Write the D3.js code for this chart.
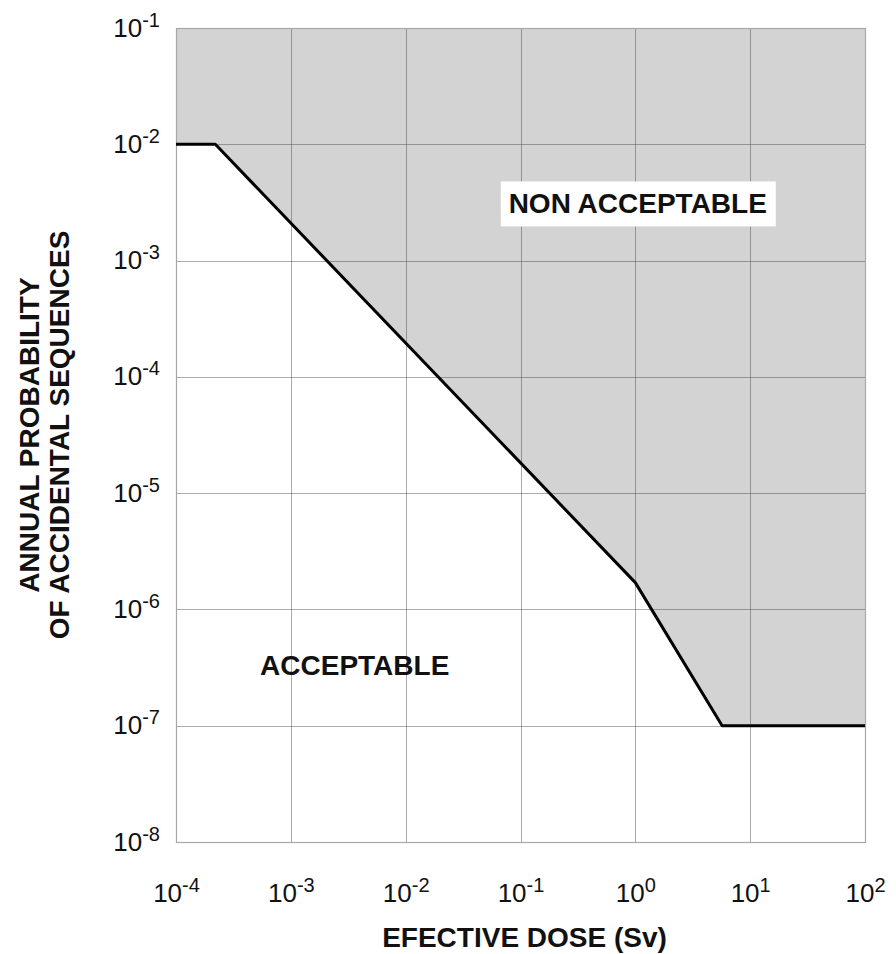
<!DOCTYPE html>
<html>
<head>
<meta charset="utf-8">
<script src="https://cdn.jsdelivr.net/npm/d3@7"></script>
<style>
  body { margin: 0; background: #fff; }
  svg { display: block; font-family: "Liberation Sans", Arial, sans-serif; }
</style>
</head>
<body>
<svg id="chart" width="896" height="954"></svg>
<script>
// axis decades (exponents of 10)
const xExponents = [-4, -3, -2, -1, 0, 1, 2];
const yExponents = [-1, -2, -3, -4, -5, -6, -7, -8];

// limit curve: effective dose (Sv) vs annual probability
const limitDose = [1e-4, 2.2e-4, 1, 5.7, 100];
const limitProb = [1e-2, 1e-2, 1.7e-6, 1e-7, 1e-7];

// region labels
const regionNames = ["NON ACCEPTABLE", "ACCEPTABLE"];
const regionDose = [1.05, 3.6e-3];
const regionProb = [3.1e-3, 3.3e-7];
const regionBoxed = [true, false];

const xTitle = "EFECTIVE DOSE (Sv)";
const yTitle = ["ANNUAL PROBABILITY", "OF ACCIDENTAL SEQUENCES"];

const plot = {left: 176, right: 865, top: 28, bottom: 842};
const svg = d3.select("#chart");

const x = d3.scaleLog()
    .domain([1e-4, 1e2])
    .range([plot.left, plot.right]);

const y = d3.scaleLog()
    .domain([1e-8, 1e-1])
    .range([plot.bottom, plot.top]);

const curve = limitDose.map((d, i) => [d, limitProb[i]]);

// shaded "non acceptable" area above the curve
let area = [[1e-4, 1e-1], [1e2, 1e-1]].concat(curve.slice().reverse());
svg.append("path")
    .attr("d", d3.line().x(d => x(d[0])).y(d => y(d[1]))(area) + "Z")
    .attr("fill", "#d3d3d3");

// grid
const grid = svg.append("g")
    .attr("stroke", "#444")
    .attr("stroke-opacity", 0.45)
    .attr("stroke-width", 1);

grid.selectAll("line.v")
    .data(xExponents.slice(1, -1))
    .join("line")
    .attr("class", "v")
    .attr("x1", d => Math.round(x(Math.pow(10, d))) + 0.5)
    .attr("x2", d => Math.round(x(Math.pow(10, d))) + 0.5)
    .attr("y1", plot.top)
    .attr("y2", plot.bottom);

grid.selectAll("line.h")
    .data(yExponents.slice(1, -1))
    .join("line")
    .attr("class", "h")
    .attr("x1", plot.left)
    .attr("x2", plot.right)
    .attr("y1", d => Math.round(y(Math.pow(10, d))) + 0.5)
    .attr("y2", d => Math.round(y(Math.pow(10, d))) + 0.5);

// frame
svg.append("rect")
    .attr("x", plot.left + 0.5)
    .attr("y", plot.top + 0.5)
    .attr("width", plot.right - plot.left)
    .attr("height", plot.bottom - plot.top)
    .attr("fill", "none")
    .attr("stroke", "#a8a8a8")
    .attr("stroke-width", 1.2);

// limit curve
svg.append("path")
    .attr("d", d3.line().x(d => x(d[0])).y(d => y(d[1]))(curve))
    .attr("fill", "none")
    .attr("stroke", "#000")
    .attr("stroke-width", 3)
    .attr("stroke-linejoin", "round");

// tick labels as 10 with superscript exponent
function powerLabel(sel) {
    sel.selectAll("text").each(function (d) {
        let t = d3.select(this).text("");
        let e = Math.round(Math.log10(d));
        t.append("tspan").text("10");
        t.append("tspan").attr("dy", -10).attr("font-size", 20).text(e);
    });
}

const xAxis = d3.axisBottom(x)
    .tickValues(xExponents.map(e => Math.pow(10, e)))
    .tickSize(0)
    .tickPadding(0);

svg.append("g")
    .attr("transform", `translate(0,${plot.bottom})`)
    .call(xAxis)
    .call(g => g.select(".domain").remove())
    .call(g => g.selectAll("text")
        .attr("y", 60).attr("dy", null)
        .attr("font-size", 26).attr("fill", "#111")
        .attr("font-family", "Liberation Sans, Arial, sans-serif"))
    .call(powerLabel);

const yAxis = d3.axisLeft(y)
    .tickValues(yExponents.map(e => Math.pow(10, e)))
    .tickSize(0)
    .tickPadding(0);

svg.append("g")
    .attr("transform", `translate(${plot.left},0)`)
    .call(yAxis)
    .call(g => g.select(".domain").remove())
    .call(g => g.selectAll("text")
        .attr("x", -16).attr("dy", 8)
        .attr("font-size", 26).attr("fill", "#111")
        .attr("font-family", "Liberation Sans, Arial, sans-serif"))
    .call(powerLabel);

// region labels
regionNames.forEach((name, i) => {
    let cx = x(regionDose[i]);
    let cy = y(regionProb[i]);
    let g = svg.append("g");
    if (regionBoxed[i]) {
        g.append("rect")
            .attr("x", cx - 137)
            .attr("y", cy - 22)
            .attr("width", 275)
            .attr("height", 45)
            .attr("fill", "#fff");
    }
    g.append("text")
        .attr("x", cx)
        .attr("y", cy + 10)
        .attr("text-anchor", "middle")
        .attr("font-size", 28)
        .attr("font-weight", "bold")
        .attr("fill", "#111")
        .text(name);
});

// axis titles
svg.append("text")
    .attr("x", (plot.left + plot.right) / 2 + 4)
    .attr("y", 947)
    .attr("text-anchor", "middle")
    .attr("font-size", 28)
    .attr("font-weight", "bold")
    .attr("fill", "#111")
    .text(xTitle);

svg.selectAll("text.ytitle")
    .data(yTitle)
    .join("text")
    .attr("class", "ytitle")
    .attr("transform", (d, i) => `translate(${39 + i * 30},${(plot.top + plot.bottom) / 2}) rotate(-90)`)
    .attr("text-anchor", "middle")
    .attr("font-size", 28)
    .attr("font-weight", "bold")
    .attr("fill", "#111")
    .text(d => d);
</script>
</body>
</html>
